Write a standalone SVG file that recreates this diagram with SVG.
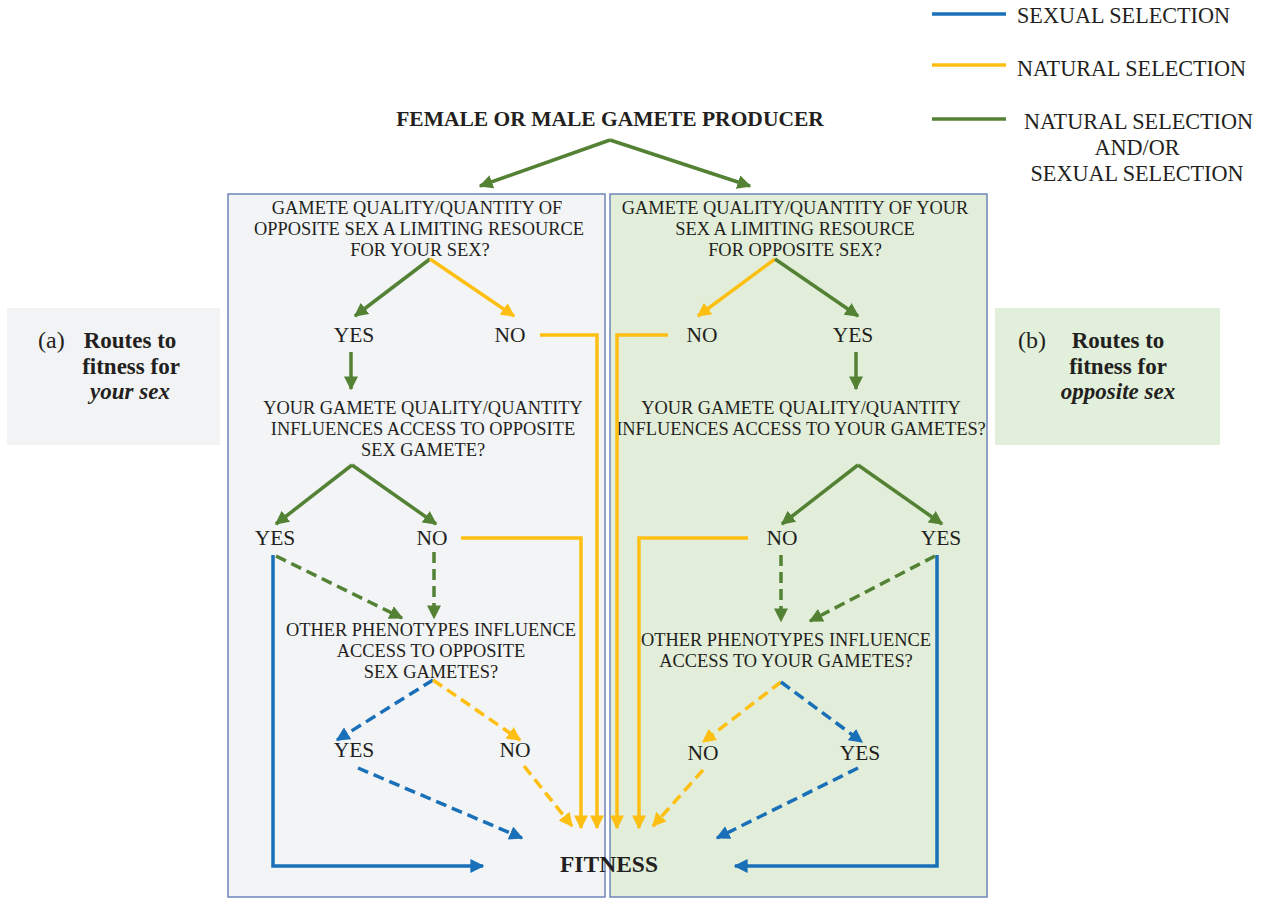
<svg xmlns="http://www.w3.org/2000/svg" width="1263" height="898" viewBox="0 0 1263 898">
<style>
text{font-family:"Liberation Serif","Times New Roman",serif;fill:#231f20}
.q{font-size:18.4px;text-anchor:middle}
.yn{font-size:21.5px;text-anchor:middle}
.lg{font-size:22.2px}
.b{font-weight:bold}
.side{font-size:23px;font-weight:bold;text-anchor:middle}
.g{stroke:#548235;stroke-width:3.5;fill:none}
.y{stroke:#fdbf12;stroke-width:3.5;fill:none}
.bl{stroke:#1a70b8;stroke-width:3.5;fill:none}
.d{stroke-dasharray:11 6}
.ag{marker-end:url(#mg)}
.ay{marker-end:url(#my)}
.ab{marker-end:url(#mb)}
.box{stroke:#6f86b8;stroke-width:1.5}
</style>
<defs>
<marker id="mg" viewBox="0 0 10 10" refX="9" refY="5" markerWidth="4" markerHeight="4" orient="auto"><path d="M0,0 L10,5 L0,10 z" fill="#548235"/></marker>
<marker id="my" viewBox="0 0 10 10" refX="9" refY="5" markerWidth="4" markerHeight="4" orient="auto"><path d="M0,0 L10,5 L0,10 z" fill="#fdbf12"/></marker>
<marker id="mb" viewBox="0 0 10 10" refX="9" refY="5" markerWidth="4" markerHeight="4" orient="auto"><path d="M0,0 L10,5 L0,10 z" fill="#1a70b8"/></marker>
</defs>
<rect width="1263" height="898" fill="#ffffff"/>

<g id="panelA">
<rect x="7" y="308" width="213" height="137" fill="#f2f3f5"/>
<text x="38" y="348" style="font-size:24px">(a)</text>
<text class="side" x="130" y="348">Routes to</text>
<text class="side" x="131" y="374">fitness for</text>
<text class="side" x="130" y="399" font-style="italic">your sex</text>
</g>
<g id="panelB">
<rect x="995" y="308" width="225" height="137" fill="#e2efda"/>
<text x="1018" y="348" style="font-size:24px">(b)</text>
<text class="side" x="1118" y="348">Routes to</text>
<text class="side" x="1118" y="374">fitness for</text>
<text class="side" x="1118" y="399" font-style="italic">opposite sex</text>
</g>

<g id="legend">
<line x1="932" y1="14" x2="1006" y2="14" class="bl"/>
<text class="lg" x="1017" y="23">SEXUAL SELECTION</text>
<line x1="932" y1="65" x2="1006" y2="65" class="y"/>
<text class="lg" x="1017" y="76">NATURAL SELECTION</text>
<line x1="932" y1="119" x2="1006" y2="119" class="g"/>
<text class="lg" x="1024" y="129">NATURAL SELECTION</text>
<text class="lg" x="1137" y="155" text-anchor="middle">AND/OR</text>
<text class="lg" x="1137" y="181" text-anchor="middle">SEXUAL SELECTION</text>
</g>

<g id="boxLeft">
<rect x="228" y="194" width="377" height="703" fill="#f2f4f6" class="box"/>
</g>
<g id="boxRight">
<rect x="610" y="194" width="377" height="703" fill="#e2eed9" class="box"/>
</g>

<g id="title">
<text x="610" y="126" class="b" style="font-size:21.5px;text-anchor:middle">FEMALE OR MALE GAMETE PRODUCER</text>
</g>

<g id="qL1">
<text class="q" x="417" y="214">GAMETE QUALITY/QUANTITY OF</text>
<text class="q" x="419" y="235">OPPOSITE SEX A LIMITING RESOURCE</text>
<text class="q" x="420" y="256">FOR YOUR SEX?</text>
</g>
<g id="qR1">
<text class="q" x="795" y="214">GAMETE QUALITY/QUANTITY OF YOUR</text>
<text class="q" x="795" y="235">SEX A LIMITING RESOURCE</text>
<text class="q" x="795" y="256">FOR OPPOSITE SEX?</text>
</g>
<g id="L_yes1"><text class="yn" x="354" y="342">YES</text></g>
<g id="L_no1"><text class="yn" x="510" y="342">NO</text></g>
<g id="R_no1"><text class="yn" x="702" y="342">NO</text></g>
<g id="R_yes1"><text class="yn" x="853" y="342">YES</text></g>

<g id="qL2">
<text class="q" x="423" y="414">YOUR GAMETE QUALITY/QUANTITY</text>
<text class="q" x="423" y="435">INFLUENCES ACCESS TO OPPOSITE</text>
<text class="q" x="423" y="456">SEX GAMETE?</text>
</g>
<g id="qR2">
<text class="q" x="801" y="414">YOUR GAMETE QUALITY/QUANTITY</text>
<text class="q" x="801" y="435">INFLUENCES ACCESS TO YOUR GAMETES?</text>
</g>
<g id="L_yes2"><text class="yn" x="275" y="545">YES</text></g>
<g id="L_no2"><text class="yn" x="432" y="545">NO</text></g>
<g id="R_no2"><text class="yn" x="782" y="545">NO</text></g>
<g id="R_yes2"><text class="yn" x="941" y="545">YES</text></g>

<g id="qL3">
<text class="q" x="431" y="636">OTHER PHENOTYPES INFLUENCE</text>
<text class="q" x="431" y="657">ACCESS TO OPPOSITE</text>
<text class="q" x="431" y="678">SEX GAMETES?</text>
</g>
<g id="qR3">
<text class="q" x="786" y="646">OTHER PHENOTYPES INFLUENCE</text>
<text class="q" x="786" y="667">ACCESS TO YOUR GAMETES?</text>
</g>
<g id="L_yes3"><text class="yn" x="354" y="757">YES</text></g>
<g id="L_no3"><text class="yn" x="515" y="757">NO</text></g>
<g id="R_no3"><text class="yn" x="703" y="760">NO</text></g>
<g id="R_yes3"><text class="yn" x="860" y="760">YES</text></g>

<g id="fitness">
<text x="609" y="872" class="b" style="font-size:23.5px;text-anchor:middle">FITNESS</text>
</g>

<g id="connectors">
<line x1="610" y1="140" x2="480" y2="186" class="g ag"/>
<line x1="610" y1="140" x2="750" y2="186" class="g ag"/>
<line x1="430" y1="259" x2="355" y2="316" class="g ag"/>
<line x1="430" y1="259" x2="514" y2="316" class="y ay"/>
<polyline points="540,335 597,335 597,828" class="y ay"/>
<line x1="351" y1="352" x2="351" y2="389" class="g ag"/>
<line x1="775" y1="259" x2="698" y2="316" class="y ay"/>
<line x1="775" y1="259" x2="858" y2="316" class="g ag"/>
<polyline points="668,335 617,335 617,828" class="y ay"/>
<line x1="856" y1="352" x2="856" y2="389" class="g ag"/>
<line x1="352" y1="465" x2="276" y2="524" class="g ag"/>
<line x1="352" y1="465" x2="436" y2="524" class="g ag"/>
<polyline points="461,538 581,538 581,828" class="y ay"/>
<polyline points="273,555 273,866 483,866" class="bl ab"/>
<line x1="276" y1="556" x2="402" y2="618" class="g d ag"/>
<line x1="434" y1="552" x2="434" y2="618" class="g d ag"/>
<line x1="858" y1="465" x2="782" y2="524" class="g ag"/>
<line x1="858" y1="465" x2="942" y2="524" class="g ag"/>
<polyline points="748,538 639,538 639,828" class="y ay"/>
<polyline points="937,555 937,866 735,866" class="bl ab"/>
<line x1="781" y1="555" x2="781" y2="621" class="g d ag"/>
<line x1="935" y1="556" x2="810" y2="621" class="g d ag"/>
<line x1="433" y1="680" x2="337" y2="740" class="bl d ab"/>
<line x1="433" y1="680" x2="520" y2="740" class="y d ay"/>
<line x1="358" y1="768" x2="522" y2="838" class="bl d ab"/>
<line x1="524" y1="766" x2="572" y2="826" class="y d ay"/>
<line x1="781" y1="682" x2="703" y2="742" class="y d ay"/>
<line x1="781" y1="682" x2="862" y2="742" class="bl d ab"/>
<line x1="703" y1="770" x2="653" y2="826" class="y d ay"/>
<line x1="858" y1="768" x2="717" y2="838" class="bl d ab"/>
</g>
</svg>
